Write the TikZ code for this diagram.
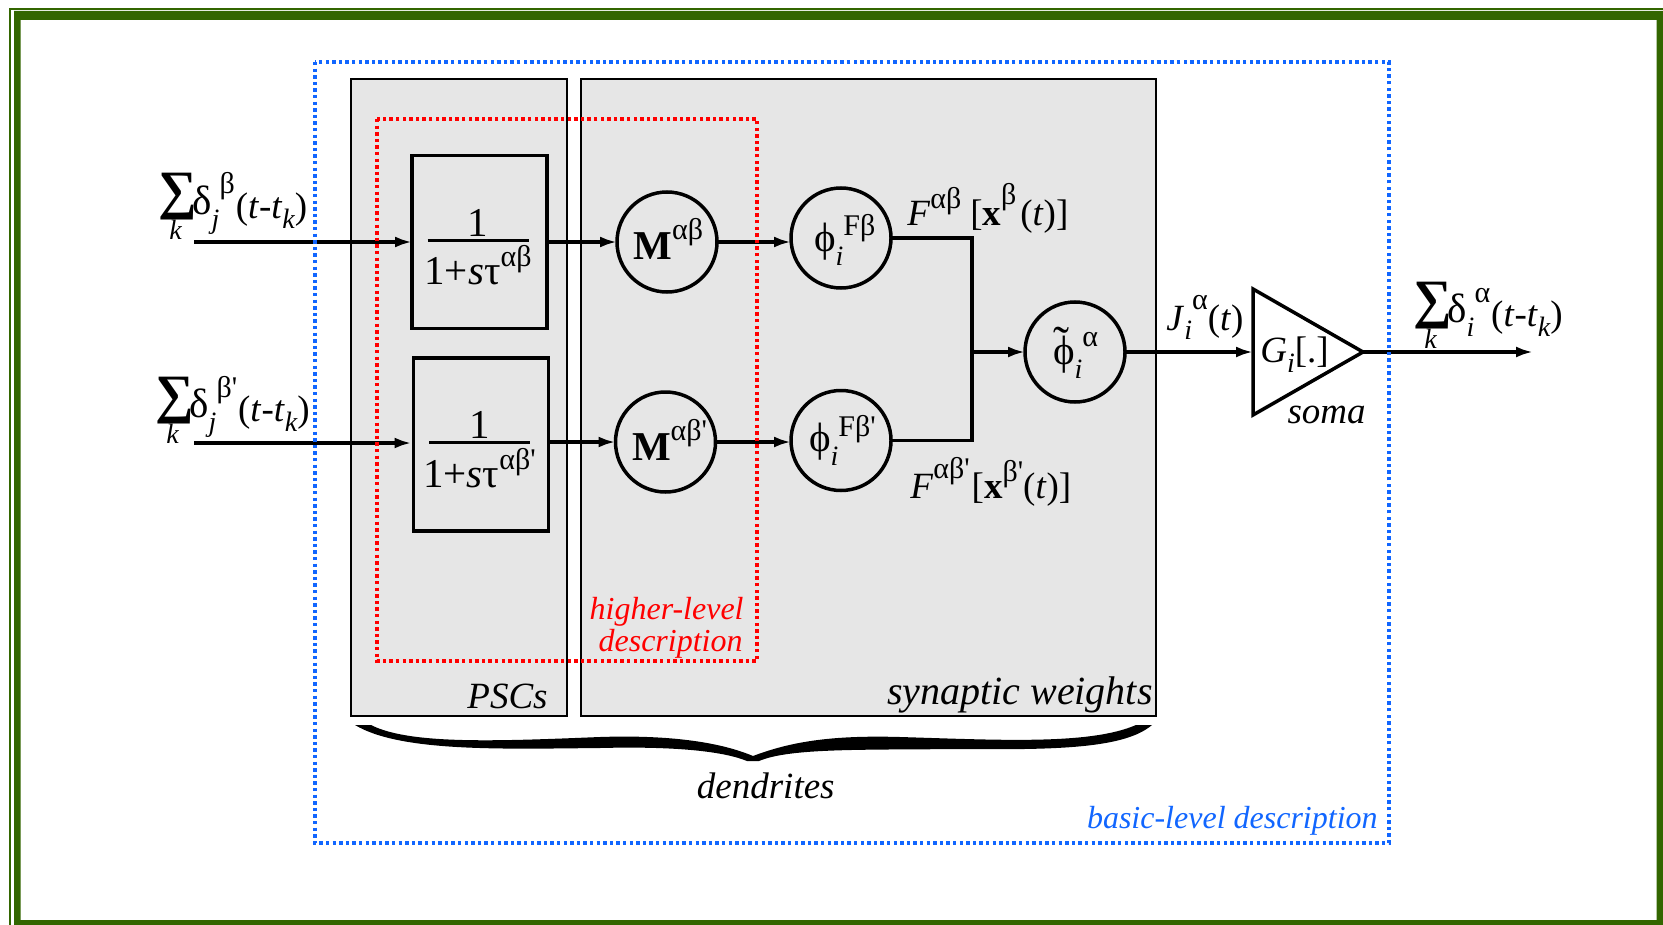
\documentclass[tikz,border=0pt]{standalone}
\usepackage{fontspec}
\setmainfont{Liberation Serif}
\usetikzlibrary{arrows.meta,shapes.geometric}
\tikzset{>={Latex[length=8.5pt,width=5.5pt]}}
\definecolor{frameGreen}{RGB}{51,102,0}
\definecolor{regionGray}{RGB}{230,230,230}
\definecolor{basicBlue}{RGB}{17,102,255}
\definecolor{higherRed}{RGB}{255,0,0}
\newcommand\mainSize{\fontsize{18.5}{22}\selectfont}
\newcommand\bigSize{\fontsize{20.5}{22}\selectfont}
\newcommand\supSize{\fontsize{15}{15}\selectfont}
\newcommand\subSize{\fontsize{14}{14}\selectfont}
\newcommand\up[2]{\raisebox{#1}{\supSize #2}}
\newcommand\dn[2]{\raisebox{-#1}{\subSize\itshape #2}}
\newcommand\pr{\textquotesingle}

\begin{document}
\begin{tikzpicture}[x=0.5pt,y=-0.5pt,font=\mainSize,
    region/.style={draw=black,fill=regionGray,line width=1pt},
    blockbox/.style={draw,line width=1.75pt,minimum width=67.5pt,minimum height=86.5pt,inner sep=0pt,outer sep=0pt},
    circlebox/.style={draw,circle,line width=1.75pt,minimum size=50pt,inner sep=0pt,outer sep=0pt},
    somabox/.style={draw,isosceles triangle,isosceles triangle apex angle=60,isosceles triangle stretches,
      minimum width=63pt,minimum height=55pt,inner sep=0pt,outer sep=0pt,line width=1.75pt,anchor=lower side},
    sig/.style={->,line width=1.75pt},
    wire/.style={line width=1.75pt},
    mathlabel/.style={anchor=base west,inner sep=0pt},
    wordlabel/.style={anchor=base east,inner sep=0pt,font=\mainSize\itshape},
    dotbox/.style={line width=1.7pt,dash pattern=on 1.7pt off 1.6pt}]
  \useasboundingbox (0,0) rectangle (1663,925);

  % help functions

        % Spike train labels
  \def\spikeLabel(#1,#2,#3,#4,#5,#6){
    \node[mathlabel] (#1) at (#2,#3) {\makebox[#6][l]{\rlap{\hspace*{5.5pt}\raisebox{-13pt}{\subSize\itshape k}}%
      \raisebox{2.5pt}{\fontsize{27}{27}\selectfont\bfseries ∑}}{\bigSize δ}\dn{7pt}{#4}\up{10pt}{#5}\hspace{0.5pt}\raisebox{-2pt}{(\textit{t}-\textit{t}\dn{5pt}{k})}};}
        % Text put in a circle, shifted from its centre
  \def\inCircle(#1,#2,#3){\makebox[0pt][l]{\hspace*{#1}\raisebox{#2}[0pt][0pt]{#3}}}
        % Fraction put in a box
  \def\blockFrac#1{\hbox{\vbox{\offinterlineskip\kern5pt
    \hbox to 50.5pt{\hss\bigSize 1\hss}\kern1.2pt\hrule height1.5pt\kern21.5pt
    \hbox to 50.5pt{\hss\smash{{\bigSize 1+\textit{s}τ}\up{9pt}{#1}}\hss}}\kern1.5pt}}

  % frame
  \fill[frameGreen,even odd rule] (14,11) rectangle (1663,925) (20.7,20) rectangle (1656.7,920);
  \draw[frameGreen,line width=1pt] (10.3,925) -- (10.3,8.7) -- (1663,8.7);

  % regions
  \draw[region] (351,79) rectangle (567,716);
  \draw[region] (581,79) rectangle (1156,716);

  % blocks
  \node[blockbox] (psc1) at (479.5,242) {\blockFrac{αβ}};
  \node[blockbox] (psc2) at (481,444.5) {\blockFrac{αβ\pr}};
  \node[circlebox] (m1) at (667,242) {\inCircle(-16.75pt,-9pt,{\bigSize\textbf{M}}\up{10pt}{αβ})};
  \node[circlebox] (m2) at (665.5,442) {\inCircle(-16.75pt,-9pt,{\bigSize\textbf{M}}\up{10pt}{αβ\pr})};
  \node[circlebox] (phi1) at (841,238) {\inCircle(-13.5pt,-6.5pt,{\bigSize ϕ}\dn{7pt}{i}\up{8pt}{Fβ})};
  \node[circlebox] (phi2) at (841,440.5) {\inCircle(-16pt,-5.5pt,{\bigSize ϕ}\dn{7pt}{i}\up{7.5pt}{Fβ\pr})};
  \node[circlebox] (phiSum) at (1075,352) {\inCircle(-11pt,-6pt,\rlap{\raisebox{2.5pt}{\fontsize{24}{24}\selectfont ˜}}{\bigSize ϕ}\dn{7pt}{i}\up{9pt}{α})};
  \node[somabox] (soma) at (1253,352) {};
  \node[mathlabel] (gain) at (1260,362) {\textit{G}\dn{5pt}{i}[.]};

  % connectors
  \coordinate (in1) at (194,242);
  \coordinate (in2) at (194,443);
  \coordinate (out) at (1533,352);
  \coordinate (join) at (972,352);
  \draw[sig] (in1) -- (psc1.west);
  \draw[sig,shorten >=1pt] (in2) -- (in2 -| psc2.west);
  \draw[sig] (psc1.east) -- (m1.west);
  \draw[sig] (m2.west -| psc2.east) -- (m2.west);
  \draw[sig] (m1.east) -- (m1.east -| phi1.west);
  \draw[sig] (m2.east) -- (m2.east -| phi2.west);
  \draw[wire] (phi1.east) -| (join);
  \draw[wire] (phi2.east) -| (join);
  \draw[sig] (join) -- (phiSum.west);
  \draw[sig] (phiSum.east) -- (soma.lower side);
  \draw[sig] (soma.apex) -- (out);

  % dotted outlines
  \draw[dotbox,higherRed] (377,119) rectangle (757,661);
  \draw[dotbox,basicBlue] (315,62) rectangle (1389,843);

  % brace
  \fill (355,725) .. controls (400,752) and (500,749) .. (600,748)
    .. controls (680,746) and (725,752) .. (747,761) -- (759,761)
    .. controls (790,748) and (860,750) .. (962,749)
    .. controls (1060,750) and (1125,748) .. (1152,725) -- (1136,725)
    .. controls (1090,745) and (1000,740) .. (900,737)
    .. controls (830,735) and (790,742) .. (753,756)
    .. controls (715,740) and (660,735) .. (600,737)
    .. controls (500,741) and (410,745) .. (371,725) -- cycle;

  % LABELS
    \spikeLabel(spikeIn1,158,214,j,β,17pt)
    \spikeLabel(spikeIn2,155,417,j,β\pr,17pt)
    \spikeLabel(spikeOut,1413,322,i,α,17pt)
    \node[mathlabel] (lblF1) at (907,226) {\textit{F}\up{8.5pt}{αβ}\hspace{4.5pt}[\textbf{x}\up{10.5pt}{β}\hspace{2pt}(\textit{t})]};
    \node[mathlabel] (lblF2) at (910,498) {\textit{F}\up{10pt}{αβ\pr}\hspace{1pt}[\textbf{x}\up{8.5pt}{β\pr}(\textit{t})]};
    \node[mathlabel] (lblJ) at (1166,330) {\textit{J}\dn{4.5pt}{i}\up{10.5pt}{α}(\textit{t})};

  % WORDS
    \node[wordlabel] (lblPSC) at (548,708) {PSCs};
    \node[wordlabel,font=\fontsize{20}{22}\selectfont\itshape] (lblWeights) at (1153,704) {synaptic weights};
    \node[wordlabel] (lblSoma) at (1366,423) {soma};
    \node[wordlabel] (lblDendrites) at (835,798) {dendrites};
    \node[wordlabel,font=\fontsize{16}{16}\selectfont\itshape,text=basicBlue] (lblBasic) at (1378,828) {basic-level description};
    \node[wordlabel,font=\fontsize{16}{16}\selectfont\itshape,text=higherRed] (lblHigherA) at (744,619) {higher-level};
    \node[wordlabel,font=\fontsize{16}{16}\selectfont\itshape,text=higherRed] (lblHigherB) at (743,651) {description};
\end{tikzpicture}
\end{document}
